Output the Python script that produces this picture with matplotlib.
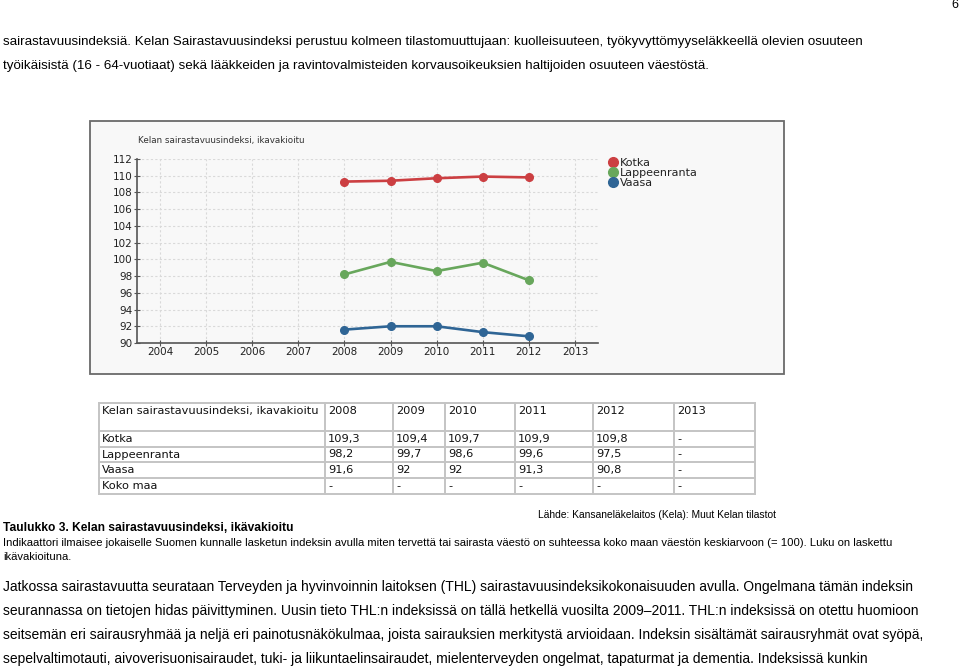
import matplotlib
matplotlib.use('Agg')
import matplotlib.pyplot as plt
from matplotlib.patches import Rectangle
from matplotlib.lines import Line2D

# data from the chart / table
years = [2004, 2005, 2006, 2007, 2008, 2009, 2010, 2011, 2012, 2013]
data_years = [2008, 2009, 2010, 2011, 2012]
kotka = [109.3, 109.4, 109.7, 109.9, 109.8]
lappeenranta = [98.2, 99.7, 98.6, 99.6, 97.5]
vaasa = [91.6, 92.0, 92.0, 91.3, 90.8]
series_names = ['Kotka', 'Lappeenranta', 'Vaasa']
series_colors = ['#cc3f42', '#68a75c', '#2f6595']

table_header = ['Kelan sairastavuusindeksi, ikavakioitu', '2008', '2009', '2010', '2011', '2012', '2013']
table_rows = [
    ['Kotka', '109,3', '109,4', '109,7', '109,9', '109,8', '-'],
    ['Lappeenranta', '98,2', '99,7', '98,6', '99,6', '97,5', '-'],
    ['Vaasa', '91,6', '92', '92', '91,3', '90,8', '-'],
    ['Koko maa', '-', '-', '-', '-', '-', '-'],
]

chart_title = 'Kelan sairastavuusindeksi, ikavakioitu'

intro_lines = [
    'sairastavuusindeksiä. Kelan Sairastavuusindeksi perustuu kolmeen tilastomuuttujaan: kuolleisuuteen, työkyvyttömyyseläkkeellä olevien osuuteen',
    'työikäisistä (16 - 64-vuotiaat) sekä lääkkeiden ja ravintovalmisteiden korvausoikeuksien haltijoiden osuuteen väestöstä.',
]
source_line = 'Lähde: Kansaneläkelaitos (Kela): Muut Kelan tilastot'
caption_title = 'Taulukko 3. Kelan sairastavuusindeksi, ikävakioitu'
caption_lines = [
    'Indikaattori ilmaisee jokaiselle Suomen kunnalle lasketun indeksin avulla miten tervettä tai sairasta väestö on suhteessa koko maan väestön keskiarvoon (= 100). Luku on laskettu',
    'ikävakioituna.',
]
para_lines = [
    'Jatkossa sairastavuutta seurataan Terveyden ja hyvinvoinnin laitoksen (THL) sairastavuusindeksikokonaisuuden avulla. Ongelmana tämän indeksin',
    'seurannassa on tietojen hidas päivittyminen. Uusin tieto THL:n indeksissä on tällä hetkellä vuosilta 2009–2011. THL:n indeksissä on otettu huomioon',
    'seitsemän eri sairausryhmää ja neljä eri painotusnäkökulmaa, joista sairauksien merkitystä arvioidaan. Indeksin sisältämät sairausryhmät ovat syöpä,',
    'sepelvaltimotauti, aivoverisuonisairaudet, tuki- ja liikuntaelinsairaudet, mielenterveyden ongelmat, tapaturmat ja dementia. Indeksissä kunkin',
]

W, H = 959, 668
doc_font = ['Liberation Sans', 'DejaVu Sans']
tab_font = ['DejaVu Sans']

fig = plt.figure(figsize=(W / 100, H / 100), dpi=100)
renderer = fig.canvas.get_renderer()

# page layer in pixel coords (y down)
page = fig.add_axes([0, 0, 1, 1])
page.set_xlim(0, W)
page.set_ylim(H, 0)
page.axis('off')


def put(x, y, s, size, width=None, **kw):
    # place text, optionally rescale font so it spans `width` pixels
    t = page.text(x, y, s, fontsize=size, va='center', ha='left', **kw)
    if width:
        w = t.get_window_extent(renderer).width
        t.set_fontsize(size * width / w)
    return t.get_fontsize()


# body text
page.text(958, 5, '6', fontsize=9, family=doc_font, ha='right', va='center')
fs = put(3, 42, intro_lines[0], 10, width=865, family=doc_font)
put(3, 66, intro_lines[1], fs, family=doc_font)

put(538, 515, source_line, 8, width=241, family=doc_font)
put(3, 528, caption_title, 9, width=290, family=doc_font, weight='bold')
fs = put(3, 543, caption_lines[0], 8, width=895, family=doc_font)
put(3, 557, caption_lines[1], fs, family=doc_font)
fs = put(3, 587, para_lines[0], 10, width=908, family=doc_font)
for i, line in enumerate(para_lines[1:]):
    put(3, 611 + 24 * i, line, fs, family=doc_font)

# chart frame
page.add_patch(Rectangle((90, 121), 694, 253, facecolor='#f8f8f8', edgecolor='#6a6a6a', lw=1.3))
put(138, 141, chart_title, 8, width=168, family=tab_font, color='#333333')

ax = fig.add_axes([137 / W, 1 - 343 / H, 461 / W, 184 / H])
ax.patch.set_alpha(0)
for vals, name, c in zip([kotka, lappeenranta, vaasa], series_names, series_colors):
    ax.plot(data_years, vals, color=c, lw=1.9, marker='o', markersize=5.5, label=name,
            solid_capstyle='round')
ax.set_xlim(2003.5, 2013.5)
ax.set_ylim(90, 112)
ax.set_xticks(years)
ax.set_xticklabels([str(y) for y in years])
ax.set_yticks(range(90, 113, 2))
ax.grid(True, color='#d9d9d9', linestyle=(0, (2, 2)), lw=0.8)
ax.set_axisbelow(True)
for s in ['top', 'right']:
    ax.spines[s].set_visible(False)
for s in ['left', 'bottom']:
    ax.spines[s].set_color('#555555')
    ax.spines[s].set_linewidth(1.2)
ax.tick_params(axis='both', direction='inout', length=4, width=0.8, color='#555555',
               labelsize=7.5, labelcolor='#222222', pad=1)
for lab in ax.get_xticklabels() + ax.get_yticklabels():
    lab.set_family(tab_font)

handles = [Line2D([], [], marker='o', linestyle='none', color=c, markersize=7) for c in series_colors]
leg = ax.legend(handles, series_names, loc='upper left', bbox_to_anchor=(604 / W, 1 - 152 / H),
                bbox_transform=fig.transFigure, frameon=False, fontsize=8, handlelength=0.6,
                handletextpad=0.3, labelspacing=0.0, borderpad=0)
for t in leg.get_texts():
    t.set_family(tab_font)
    t.set_color('#222222')

# table
col_edges = [99, 325, 393, 445, 515, 593, 674, 755]
row_edges = [403, 431, 447, 462, 478, 494]
for x in col_edges:
    page.plot([x, x], [row_edges[0], row_edges[-1]], color='#c4c4c4', lw=1.4)
for y in row_edges:
    page.plot([col_edges[0], col_edges[-1]], [y, y], color='#c4c4c4', lw=1.4)

tfs = put(col_edges[0] + 3, 411, table_header[0], 9, width=216, family=tab_font, color='#111111')
for j, h in enumerate(table_header[1:], start=1):
    put(col_edges[j] + 3, 411, h, tfs, family=tab_font, color='#111111')
for i, row in enumerate(table_rows):
    yc = (row_edges[i + 1] + row_edges[i + 2]) / 2
    for j, cell in enumerate(row):
        put(col_edges[j] + 3, yc, cell, tfs, family=tab_font, color='#111111')

fig.savefig('out.png', dpi=100)
